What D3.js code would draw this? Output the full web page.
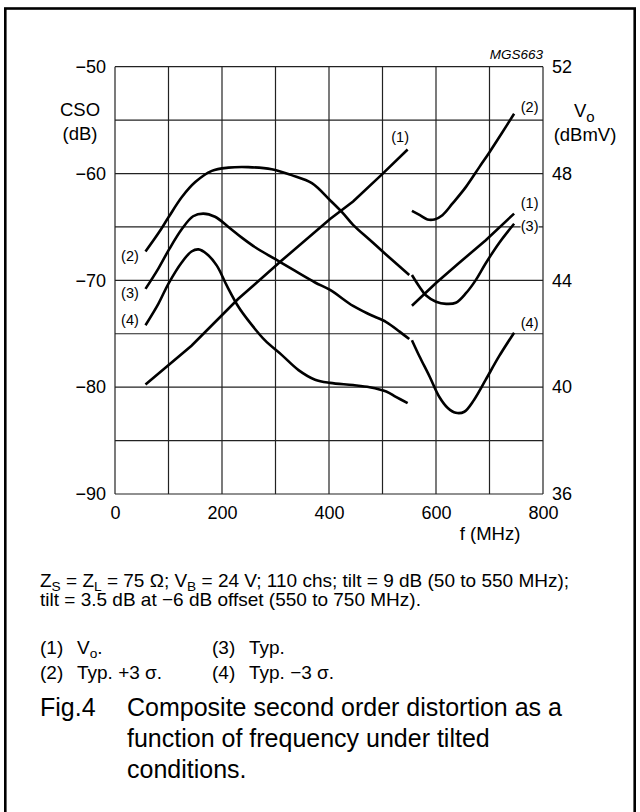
<!DOCTYPE html>
<html>
<head>
<meta charset="utf-8">
<script src="https://cdn.jsdelivr.net/npm/d3@7"></script>
<style>
  body { margin: 0; background: #fff; }
  text { font-family: "Liberation Sans", Arial, Helvetica, sans-serif; fill: #000; }
</style>
</head>
<body>
<div id="chart"></div>
<script>
// grid lines and tick labels
var freqGrid = [0, 100, 200, 300, 400, 500, 600, 700, 800];
var freqTicks = [0, 200, 400, 600, 800];
var csoGrid = [-90, -85, -80, -75, -70, -65, -60, -55, -50];
var csoTicks = [-50, -60, -70, -80, -90];
var voTicks = [52, 48, 44, 40, 36];

// (1) Vo in dBmV (right axis), 50-550 MHz band and 550-750 MHz band
var freq1a = [57, 143, 230, 312, 402, 445, 498, 547];
var vo1a = [40.1, 41.55, 43.3, 44.75, 46.3, 46.95, 47.95, 48.9];
var freq1b = [555, 600, 643, 693, 746];
var vo1b = [43.05, 43.9, 44.65, 45.5, 46.5];

// (2) Typ. +3 sigma, CSO in dB
var freq2a = [57, 81, 100, 125, 150, 181, 212, 249, 293, 330, 368, 402, 426, 445, 476, 507, 532, 550];
var cso2a = [-67.3, -65.6, -64.1, -62.2, -60.8, -59.75, -59.45, -59.4, -59.6, -60.15, -60.9, -62.5, -63.7, -64.8, -66.2, -67.6, -68.7, -69.5];
var freq2b = [555, 570, 584, 597, 612, 631, 656, 681, 700, 722, 746];
var cso2b = [-63.5, -63.9, -64.3, -64.3, -63.9, -62.8, -61.25, -59.4, -58.0, -56.3, -54.4];

// (3) Typ.
var freq3a = [57, 81, 100, 125, 146, 165, 187, 212, 237, 262, 299, 336, 374, 402, 445, 476, 507, 532, 550];
var cso3a = [-70.8, -68.9, -67.2, -65.2, -64.0, -63.75, -64.05, -65.0, -66.0, -66.9, -68.0, -69.1, -70.2, -70.9, -72.4, -73.2, -73.9, -74.8, -75.5];
var freq3b = [555, 569, 581, 600, 619, 637, 656, 674, 693, 718, 746];
var cso3b = [-69.5, -70.6, -71.4, -72.0, -72.2, -72.1, -71.2, -70.0, -68.4, -66.5, -64.7];

// (4) Typ. -3 sigma
var freq4a = [57, 81, 100, 125, 143, 156, 171, 190, 209, 231, 249, 280, 312, 343, 374, 402, 445, 476, 507, 525, 547];
var cso4a = [-74.2, -72.2, -70.3, -68.3, -67.3, -67.1, -67.5, -68.6, -70.5, -72.5, -73.75, -75.6, -77.0, -78.4, -79.3, -79.6, -79.8, -80.0, -80.4, -80.9, -81.5];
var freq4b = [555, 569, 588, 606, 622, 637, 653, 671, 693, 718, 746];
var cso4b = [-75.6, -77.1, -79.0, -80.9, -81.95, -82.4, -82.3, -81.2, -79.3, -77.1, -74.9];

// curve tags: text, freq, value on CSO axis
var tagText = ["(1)", "(2)", "(1)", "(3)", "(4)", "(2)", "(3)", "(4)"];
var tagFreq = [533, 775, 775, 775, 775, 28, 28, 28];
var tagCso = [-57.05, -54.25, -63.25, -65.4, -74.45, -68.2, -71.65, -74.2];

var svgWidth = 640;
var svgHeight = 812;

var margin = { top: 66.7, left: 115, right: 97, bottom: 318 };
var width = svgWidth - margin.left - margin.right;
var height = svgHeight - margin.top - margin.bottom;

var svg = d3.select("#chart")
  .append("svg")
  .attr("width", svgWidth)
  .attr("height", svgHeight);

svg.append("rect")
  .attr("width", svgWidth)
  .attr("height", svgHeight)
  .attr("fill", "#fff");

// outer frame (bottom edge runs off the page)
svg.append("rect")
  .attr("x", 5.3)
  .attr("y", 8.5)
  .attr("width", 629.4)
  .attr("height", 830)
  .attr("fill", "none")
  .attr("stroke", "#000")
  .attr("stroke-width", 2.6);

var chartGroup = svg.append("g")
  .attr("transform", `translate(${margin.left}, ${margin.top})`);

var xScale = d3.scaleLinear().domain([0, 800]).range([0, width]);
var yScale = d3.scaleLinear().domain([-90, -50]).range([height, 0]);
var voScale = d3.scaleLinear().domain([36, 52]).range([height, 0]);

// grid
chartGroup.selectAll(".vgrid")
  .data(freqGrid)
  .enter()
  .append("line")
  .attr("x1", d => xScale(d))
  .attr("x2", d => xScale(d))
  .attr("y1", 0)
  .attr("y2", height)
  .attr("stroke", "#222")
  .attr("stroke-width", 1.2);

chartGroup.selectAll(".hgrid")
  .data(csoGrid)
  .enter()
  .append("line")
  .attr("x1", 0)
  .attr("x2", width)
  .attr("y1", d => yScale(d))
  .attr("y2", d => yScale(d))
  .attr("stroke", "#222")
  .attr("stroke-width", 1.2);

// axes (labels only, lines come from the grid)
var leftAxis = d3.axisLeft(yScale).tickValues(csoTicks).tickSize(0).tickPadding(9);
var rightAxis = d3.axisRight(voScale).tickValues(voTicks).tickSize(0).tickPadding(9);
var bottomAxis = d3.axisBottom(xScale).tickValues(freqTicks).tickSize(0).tickPadding(12);

function styleAxis(g) {
  g.select(".domain").remove();
  g.selectAll("text")
    .style("font-family", '"Liberation Sans", Arial, sans-serif')
    .style("font-size", "18px")
    .attr("fill", "#000");
}

chartGroup.append("g").call(leftAxis).call(styleAxis);
chartGroup.append("g").attr("transform", `translate(${width}, 0)`).call(rightAxis).call(styleAxis);
chartGroup.append("g").attr("transform", `translate(0, ${height})`).call(bottomAxis).call(styleAxis);

// curves
function pts(fs, vs) {
  return fs.map((f, i) => [f, vs[i]]);
}

var csoLine = d3.line()
  .x(d => xScale(d[0]))
  .y(d => yScale(d[1]))
  .curve(d3.curveCatmullRom.alpha(0.5));

var voLine = d3.line()
  .x(d => xScale(d[0]))
  .y(d => voScale(d[1]));

var csoSeries = [pts(freq2a, cso2a), pts(freq2b, cso2b), pts(freq3a, cso3a),
  pts(freq3b, cso3b), pts(freq4a, cso4a), pts(freq4b, cso4b)];
var voSeries = [pts(freq1a, vo1a), pts(freq1b, vo1b)];

chartGroup.selectAll(".cso")
  .data(csoSeries)
  .enter()
  .append("path")
  .attr("d", csoLine)
  .attr("fill", "none")
  .attr("stroke", "#000")
  .attr("stroke-width", 2.6);

chartGroup.selectAll(".vo")
  .data(voSeries)
  .enter()
  .append("path")
  .attr("d", voLine)
  .attr("fill", "none")
  .attr("stroke", "#000")
  .attr("stroke-width", 2.6);

// curve tags
var tags = chartGroup.selectAll(".tag")
  .data(tagText)
  .enter()
  .append("g")
  .attr("transform", (d, i) => `translate(${xScale(tagFreq[i])}, ${yScale(tagCso[i])})`);

tags.append("rect")
  .attr("x", -9)
  .attr("y", -12)
  .attr("width", 18)
  .attr("height", 15)
  .attr("fill", "#fff");

tags.append("text")
  .attr("text-anchor", "middle")
  .style("font-size", "14.5px")
  .text(d => d);

// axis titles
svg.append("text")
  .attr("x", 543)
  .attr("y", 59)
  .attr("text-anchor", "end")
  .style("font-size", "13.5px")
  .style("font-style", "italic")
  .text("MGS663");

svg.append("text").attr("x", 80).attr("y", 116).attr("text-anchor", "middle")
  .style("font-size", "18.5px").text("CSO");
svg.append("text").attr("x", 80).attr("y", 140).attr("text-anchor", "middle")
  .style("font-size", "18.5px").text("(dB)");

var vo = svg.append("text").attr("x", 574).attr("y", 116.5).style("font-size", "18.5px");
vo.append("tspan").text("V");
vo.append("tspan").attr("dy", 5).style("font-size", "15px").text("o");
svg.append("text").attr("x", 585).attr("y", 140.5).attr("text-anchor", "middle")
  .style("font-size", "18.5px").text("(dBmV)");

svg.append("text").attr("x", 490).attr("y", 540).attr("text-anchor", "middle")
  .style("font-size", "18.5px").text("f (MHz)");

// notes below the chart; {sub: ".."} parts are subscripts
function rich(x, y, size, parts) {
  var t = svg.append("text").attr("x", x).attr("y", y).style("font-size", size + "px");
  var shift = 0;
  parts.forEach(function(p) {
    if (typeof p === "string") {
      t.append("tspan").attr("dy", -shift).text(p);
      shift = 0;
    } else {
      t.append("tspan").attr("dy", 3.5).style("font-size", (size * 0.72) + "px").text(p.sub);
      shift = 3.5;
    }
  });
  return t;
}

rich(40, 587, 19, ["Z", {sub: "S"}, " = Z", {sub: "L"}, " = 75 \u03a9; V", {sub: "B"},
  " = 24 V; 110 chs; tilt = 9 dB (50 to 550 MHz);"]);
rich(40, 606, 19, ["tilt = 3.5 dB at \u22126 dB offset (550 to 750 MHz)."]);

rich(40, 654, 19, ["(1)"]);
rich(77, 654, 19, ["V", {sub: "o"}, "."]);
rich(212, 654, 19, ["(3)"]);
rich(249, 654, 19, ["Typ."]);
rich(40, 679, 19, ["(2)"]);
rich(77, 679, 19, ["Typ. +3 \u03c3."]);
rich(212, 679, 19, ["(4)"]);
rich(249, 679, 19, ["Typ. \u22123 \u03c3."]);

// figure caption
svg.append("text").attr("x", 40).attr("y", 716).style("font-size", "25px").text("Fig.4");
svg.append("text").attr("x", 127).attr("y", 716).style("font-size", "25px")
  .text("Composite second order distortion as a");
svg.append("text").attr("x", 127).attr("y", 747).style("font-size", "25px")
  .text("function of frequency under tilted");
svg.append("text").attr("x", 127).attr("y", 778).style("font-size", "25px")
  .text("conditions.");
</script>
</body>
</html>
